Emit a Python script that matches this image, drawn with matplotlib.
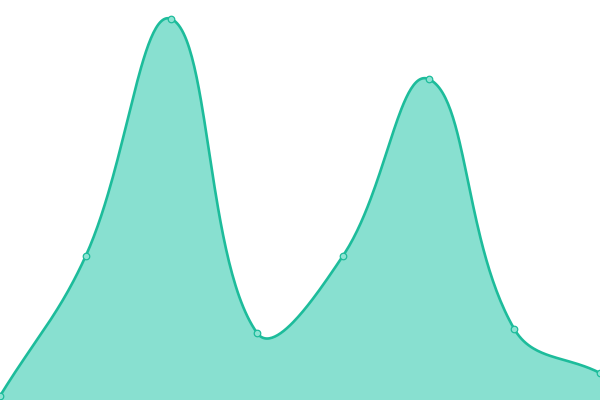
import numpy as np
import matplotlib
matplotlib.use('Agg')
import matplotlib.pyplot as plt

# valores de la serie
x_vals = [0, 1, 2, 3, 4, 5, 6, 7]
y_vals = [4, 144, 381, 67, 144, 321, 71, 27]

line_color = '#1dbc9b'
fill_color = '#88e0d0'
point_face = '#8ee3d3'

W, H = 600, 400
x_max, y_max = 7, 400
tension = 0.4


def smooth_curve(xs, ys, t=0.4, n=60):
    # curva bezier tipo "tension" calculada en pixeles
    sx = W / x_max
    sy = H / y_max
    p = np.column_stack([np.asarray(xs, float) * sx, np.asarray(ys, float) * sy])
    k = len(p)
    cp_prev = p.copy()
    cp_next = p.copy()
    for i in range(k):
        prev = p[i - 1] if i > 0 else p[i]
        nxt = p[i + 1] if i < k - 1 else p[i]
        d01 = np.hypot(*(p[i] - prev))
        d12 = np.hypot(*(nxt - p[i]))
        tot = d01 + d12
        s01 = d01 / tot if tot else 0
        s12 = d12 / tot if tot else 0
        cp_prev[i] = p[i] - t * s01 * (nxt - prev)
        cp_next[i] = p[i] + t * s12 * (nxt - prev)
    cp_prev[:, 0] = np.clip(cp_prev[:, 0], 0, W)
    cp_next[:, 0] = np.clip(cp_next[:, 0], 0, W)
    cp_prev[:, 1] = np.clip(cp_prev[:, 1], 0, H)
    cp_next[:, 1] = np.clip(cp_next[:, 1], 0, H)
    u = np.linspace(0, 1, n)[:, None]
    segs = []
    for i in range(k - 1):
        b = ((1 - u) ** 3 * p[i] + 3 * (1 - u) ** 2 * u * cp_next[i]
             + 3 * (1 - u) * u ** 2 * cp_prev[i + 1] + u ** 3 * p[i + 1])
        segs.append(b)
    c = np.vstack(segs)
    return c[:, 0] / sx, c[:, 1] / sy


cx, cy = smooth_curve(x_vals, y_vals, tension)

fig = plt.figure(figsize=(6, 4), dpi=100)
ax = fig.add_axes([0, 0, 1, 1])
ax.fill_between(cx, cy, 0, color=fill_color, linewidth=0)
ax.plot(cx, cy, color=line_color, linewidth=1.9, solid_capstyle='round')
ax.scatter(x_vals, y_vals, s=22, facecolor=point_face, edgecolor=line_color,
           linewidth=0.9, zorder=3, clip_on=False)
ax.set_xlim(0, x_max)
ax.set_ylim(0, y_max)
ax.axis('off')

fig.savefig('out.png', dpi=100)
